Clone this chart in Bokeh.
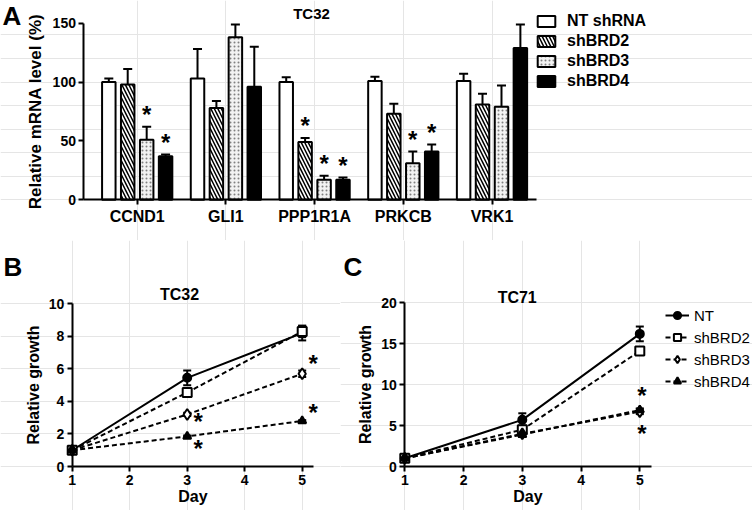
from bokeh.plotting import figure
from bokeh.layouts import column, row
from bokeh.models import (ColumnDataSource, Whisker, TeeHead, Label, Legend, LegendItem,
                          FixedTicker, Range1d, LinearAxis)
from bokeh.core.properties import value
from bokeh.embed import file_html
from bokeh.resources import INLINE

FONT = "Liberation Sans"

# ---------------- Panel A data ----------------
genes = ["CCND1", "GLI1", "PPP1R1A", "PRKCB", "VRK1"]
series_a = ["NT shRNA", "shBRD2", "shBRD3", "shBRD4"]
mrna_nt = [100, 103, 100, 101, 101]
mrna_brd2 = [98, 78, 49, 73, 81]
mrna_brd3 = [51, 138, 17, 31, 79]
mrna_brd4 = [37, 96, 17, 41, 129]
err_nt = [3, 25, 4, 3.5, 6]
err_brd2 = [13, 6, 3.5, 8.5, 9]
err_brd3 = [11, 11, 3.5, 10, 18]
err_brd4 = [1.5, 34, 2, 6, 20]
sig_nt = [False, False, False, False, False]
sig_brd2 = [False, False, True, False, False]
sig_brd3 = [True, False, True, True, False]
sig_brd4 = [True, False, True, True, False]
mrna_ticks = [0, 50, 100, 150]

# ---------------- Panels B / C data ----------------
days = [1, 3, 5]
day_ticks = [1, 2, 3, 4, 5]
growth_series = ["NT", "shBRD2", "shBRD3", "shBRD4"]
tc32_nt = [1, 5.45, 8.2]
tc32_brd2 = [1, 4.55, 8.3]
tc32_brd3 = [1, 3.2, 5.7]
tc32_brd4 = [1, 1.85, 2.8]
tc32_err_nt = [0.1, 0.45, 0.45]
tc32_err_brd2 = [0.1, 0.15, 0.35]
tc32_err_brd3 = [0.05, 0.1, 0.2]
tc32_err_brd4 = [0.05, 0.05, 0.05]
tc32_star_day = [3, 3, 5, 5]
tc32_star_y = [2.95, 1.3, 6.5, 3.5]
tc32_ticks = [0, 2, 4, 6, 8, 10]

tc71_nt = [1, 5.7, 16.2]
tc71_brd2 = [1, 4.5, 14.1]
tc71_brd3 = [1, 4.0, 6.7]
tc71_brd4 = [1, 3.9, 6.9]
tc71_err_nt = [0.2, 0.8, 0.9]
tc71_err_brd2 = [0.1, 0.5, 0.4]
tc71_err_brd3 = [0.1, 0.3, 0.3]
tc71_err_brd4 = [0.1, 0.3, 0.2]
tc71_star_day = [5, 5]
tc71_star_y = [9.1, 4.4]
tc71_ticks = [0, 5, 10, 15, 20]


def make_fig(w, h, ox, oy, x0, y0, sx, sy):
    """Canvas-sized frame: data point (x0, y0) lands at canvas pixel (ox, oy from top)."""
    p = figure(width=w, height=h,
               x_range=Range1d(x0 - ox / sx, x0 + (w - ox) / sx),
               y_range=Range1d(y0 - (h - oy) / sy, y0 + oy / sy),
               x_axis_location=None, y_axis_location=None, min_border=0,
               output_backend="svg", toolbar_location=None)
    p.outline_line_color = None
    p.background_fill_color = "white"
    p.border_fill_color = "white"
    return p


def style_axis(ax, tick_size, label_size, label_standoff):
    ax.axis_line_width = 2
    ax.axis_line_color = "black"
    ax.major_tick_line_width = 2
    ax.major_tick_line_color = "black"
    ax.major_tick_out = 5
    ax.major_tick_in = 0
    ax.minor_tick_line_color = None
    ax.major_label_text_font = FONT
    ax.major_label_text_font_style = "bold"
    ax.major_label_text_font_size = tick_size
    ax.major_label_text_color = "black"
    ax.axis_label_text_font = FONT
    ax.axis_label_text_font_style = "bold"
    ax.axis_label_text_font_size = label_size
    ax.axis_label_text_color = "black"
    ax.axis_label_standoff = label_standoff
    ax.major_label_standoff = 3


def add_axes(p, x_at, y_at, xbounds, ybounds, xticks, yticks, xlabel, ylabel,
             xtick_size="14px", ylabel_size="16px", xoverrides=None):
    xa = LinearAxis(fixed_location=y_at, bounds=xbounds, ticker=FixedTicker(ticks=xticks),
                    axis_label=xlabel)
    ya = LinearAxis(fixed_location=x_at, bounds=ybounds, ticker=FixedTicker(ticks=yticks),
                    axis_label=ylabel)
    style_axis(xa, xtick_size, "16px", 0)
    style_axis(ya, "14px", ylabel_size, 4)
    if xoverrides:
        xa.major_label_overrides = xoverrides
    p.add_layout(xa, "below")
    p.add_layout(ya, "left")


def add_label(p, x, y, text, size, style="bold", align="left", baseline="alphabetic"):
    p.add_layout(Label(x=x, y=y, x_units="screen", y_units="screen", text=text,
                       text_font=FONT, text_font_style=style, text_font_size=size,
                       text_align=align, text_baseline=baseline, text_color="black"))


# ================= Panel A =================
WA, HA = 752, 240
pa = make_fig(WA, HA, 136.7, 199.3, 0, 0, 88.7, 1.1773)
add_axes(pa, -0.6, 0, (-0.6, 4.5), (0, 150), list(range(len(genes))), mrna_ticks,
         None, "Relative mRNA level (%)", xtick_size="16px", ylabel_size="17px",
         xoverrides={i: g for i, g in enumerate(genes)})

offsets = [-0.32, -0.107, 0.107, 0.32]
bar_vals = [mrna_nt, mrna_brd2, mrna_brd3, mrna_brd4]
bar_errs = [err_nt, err_brd2, err_brd3, err_brd4]
bar_sigs = [sig_nt, sig_brd2, sig_brd3, sig_brd4]
bar_styles = [
    dict(fill_color="white"),
    dict(fill_color="white", hatch_pattern="\\", hatch_color="black", hatch_weight=1.5, hatch_scale=7),
    dict(fill_color="#f2f2f2", hatch_pattern=".", hatch_color="#808080", hatch_weight=1, hatch_scale=4),
    dict(fill_color="black"),
]
items_a = []
for k in range(4):
    xs = [i + offsets[k] for i in range(len(genes))]
    ups = [v + e for v, e in zip(bar_vals[k], bar_errs[k])]
    src = ColumnDataSource(dict(x=xs, top=bar_vals[k], up=ups))
    pa.add_layout(Whisker(source=src, base="x", lower="top", upper="up", dimension="height",
                          line_width=2, line_color="black",
                          upper_head=TeeHead(size=9, line_width=2, line_color="black"),
                          lower_head=None))
    r = pa.vbar(x="x", top="top", bottom=0, width=0.152, source=src,
                line_color="black", line_width=2, **bar_styles[k])
    items_a.append(LegendItem(label=series_a[k], renderers=[r]))
    sx = [x for x, s in zip(xs, bar_sigs[k]) if s]
    sy = [u for u, s in zip(ups, bar_sigs[k]) if s]
    if sx:
        pa.text(x=sx, y=sy, text=["*"] * len(sx), text_font=value(FONT), text_font_style="bold",
                text_font_size="24px", text_align="center", text_baseline="middle",
                y_offset=-12, text_color="black")

leg_a = Legend(items=items_a, location=(535, 150), orientation="vertical",
               glyph_width=22, glyph_height=14, label_height=18, spacing=2, padding=0, margin=0,
               label_standoff=10, label_text_font=FONT, label_text_font_style="bold",
               label_text_font_size="16px", label_text_color="black",
               border_line_color=None, background_fill_alpha=0)
pa.add_layout(leg_a)
add_label(pa, 311, HA - 13, "TC32", "15px", align="center")
add_label(pa, 2, HA - 15, "A", "26px")

# ================= Growth panels =================
line_dash = ["solid", "5 3", "5 3", "5 3"]
markers = ["circle", "square", "diamond", "triangle"]
m_fill = ["black", "white", "white", "black"]
m_size = [8, 9, 11, 8]


def growth_panel(p, vals, errs, star_day, star_y, star_dx):
    items = []
    for k in range(4):
        lo = [v - e for v, e in zip(vals[k], errs[k])]
        hi = [v + e for v, e in zip(vals[k], errs[k])]
        src = ColumnDataSource(dict(x=days, y=vals[k], lo=lo, hi=hi))
        lr = p.line(x="x", y="y", source=src, line_color="black", line_width=2,
                    line_dash=line_dash[k])
        p.add_layout(Whisker(source=src, base="x", lower="lo", upper="hi", dimension="height",
                             line_width=2, line_color="black",
                             upper_head=TeeHead(size=8, line_width=2, line_color="black"),
                             lower_head=TeeHead(size=8, line_width=2, line_color="black")))
        sr = p.scatter(x="x", y="y", source=src, marker=markers[k], size=m_size[k],
                       fill_color=m_fill[k], line_color="black", line_width=2)
        items.append(LegendItem(label=growth_series[k], renderers=[lr, sr]))
    p.text(x=star_day, y=star_y, text=["*"] * len(star_day), x_offset=star_dx, y_offset=3,
           text_font=value(FONT), text_font_style="bold", text_font_size="24px",
           text_align="center", text_baseline="middle", text_color="black")
    return items


WB, HB = 340, 270
pb = make_fig(WB, HB, 71.7, 226, 1, 0, 57.5, 16.27)
add_axes(pb, 1, 0, (1, 5.2), (0, 10), day_ticks, tc32_ticks, "Day", "Relative growth")
growth_panel(pb, [tc32_nt, tc32_brd2, tc32_brd3, tc32_brd4],
             [tc32_err_nt, tc32_err_brd2, tc32_err_brd3, tc32_err_brd4],
             tc32_star_day, tc32_star_y, 11)
add_label(pb, 179, HB - 54, "TC32", "16px", align="center")
add_label(pb, 3, HB - 26, "B", "26px")

WC, HC = 412, 270
pc = make_fig(WC, HC, 64.3, 226, 1, 0, 58.75, 8.185)
add_axes(pc, 1, 0, (1, 5.2), (0, 20), day_ticks, tc71_ticks, "Day", "Relative growth")
items_c = growth_panel(pc, [tc71_nt, tc71_brd2, tc71_brd3, tc71_brd4],
                       [tc71_err_nt, tc71_err_brd2, tc71_err_brd3, tc71_err_brd4],
                       tc71_star_day, tc71_star_y, 2)
add_label(pc, 176.7, HC - 57, "TC71", "16px", align="center")
add_label(pc, 3, HC - 26, "C", "26px")
leg_c = Legend(items=items_c, location=(325, 120), orientation="vertical",
               glyph_width=24, glyph_height=18, label_height=18, spacing=4, padding=0, margin=0,
               label_standoff=5, label_text_font=FONT, label_text_font_size="15px",
               label_text_color="black",
               border_line_color=None, background_fill_alpha=0)
pc.add_layout(leg_c)

layout = column(pa, row(pb, pc))
open("out.html", "w").write(file_html(layout, INLINE))
